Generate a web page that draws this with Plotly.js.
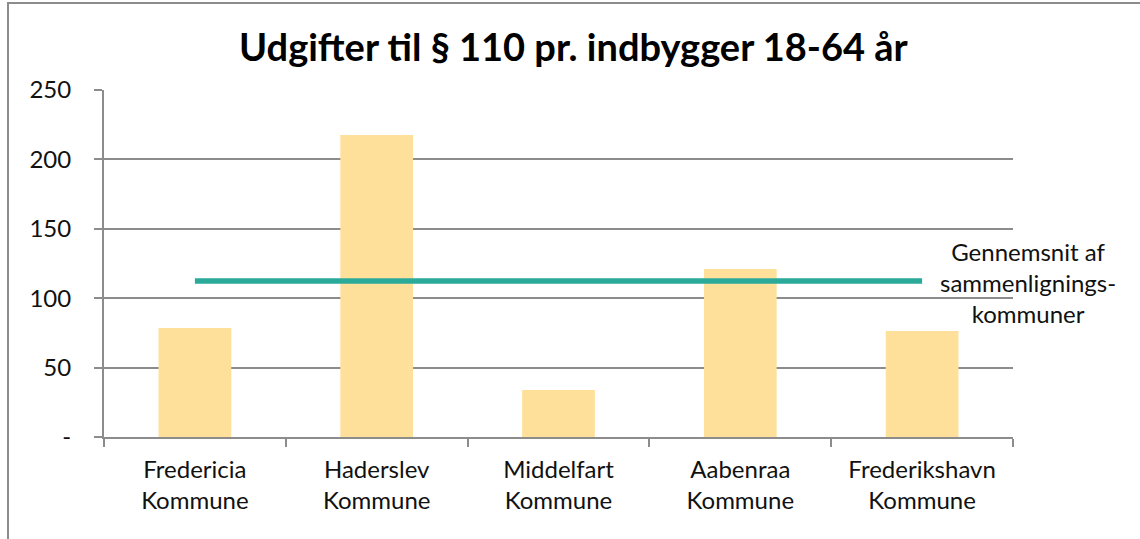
<!DOCTYPE html>
<html>
<head>
<meta charset="utf-8">
<script src="https://cdn.plot.ly/plotly-3.0.1.min.js"></script>
<style>
  body { margin: 0; overflow: hidden; background: #fff; }
  #frame { position: absolute; left: 7px; top: 2px; width: 1200px; height: 600px; border: 2px solid #8c8c8c; }
  #chart { position: absolute; left: 0; top: 0; width: 1140px; height: 539px; }
</style>
</head>
<body>
<div id="frame"></div>
<div id="chart"></div>
<script>
var kommuner = ["Fredericia<br>Kommune", "Haderslev<br>Kommune", "Middelfart<br>Kommune", "Aabenraa<br>Kommune", "Frederikshavn<br>Kommune"];
var udgifter = [78.5, 217.6, 33.9, 121, 76.4];
var gennemsnit = [112.4, 112.4, 112.4, 112.4, 112.4];
var yTicks = [0, 50, 100, 150, 200, 250];
var yTickText = ["-", "50", "100", "150", "200", "250"];

var font = "Lato, 'Open Sans', sans-serif";

var data = [
    {
    type: "bar",
    x: kommuner,
    y: udgifter,
    marker: { color: "rgb(254,224,154)" },
    width: 0.4,
    hoverinfo: "y"
    },
    {
    type: "scatter",
    mode: "lines",
    x: kommuner,
    y: gennemsnit,
    line: { color: "rgb(43,170,154)", width: 5.5 },
    hoverinfo: "y"
    }
];

var layout = {
    width: 1140,
    height: 539,
    margin: { l: 104, r: 127, t: 90, b: 102 },
    paper_bgcolor: "rgba(0,0,0,0)",
    plot_bgcolor: "rgba(0,0,0,0)",
    showlegend: false,
    font: { family: font, color: "#111", size: 24 },
    title: {
    text: "<b>Udgifter til § 110 pr. indbygger 18-64 år</b>",
    font: { family: font, size: 38, color: "#000" },
    x: 0.503,
    xanchor: "center",
    y: 0.912,
    yanchor: "middle"
    },
    xaxis: {
    type: "category",
    tickson: "boundaries",
    ticks: "outside",
    ticklen: 8,
    tickwidth: 2,
    tickcolor: "#8c8c8c",
    showline: true,
    linecolor: "#8c8c8c",
    linewidth: 2,
    showgrid: false,
    ticklabelstandoff: 10,
    tickfont: { family: font, size: 24, color: "#111" },
    fixedrange: true
    },
    yaxis: {
    range: [0, 250],
    tickvals: yTicks,
    ticktext: yTickText,
    ticks: "outside",
    ticklen: 8,
    tickwidth: 2,
    tickcolor: "#8c8c8c",
    showline: true,
    linecolor: "#8c8c8c",
    linewidth: 2,
    showgrid: true,
    gridcolor: "#8c8c8c",
    gridwidth: 2,
    zeroline: false,
    ticklabelstandoff: 18,
    tickfont: { family: font, size: 24, color: "#111" },
    fixedrange: true
    },
    annotations: [
    {
        xref: "paper",
        yref: "y",
        x: 1.017,
        y: 111,
        xanchor: "center",
        yanchor: "middle",
        showarrow: false,
        align: "center",
        text: "Gennemsnit af<br>sammenlignings-<br>kommuner",
        font: { family: font, size: 24, color: "#111" }
    }
    ]
};

Plotly.newPlot(document.getElementById("chart"), data, layout, { displayModeBar: false, staticPlot: true });
</script>
</body>
</html>
